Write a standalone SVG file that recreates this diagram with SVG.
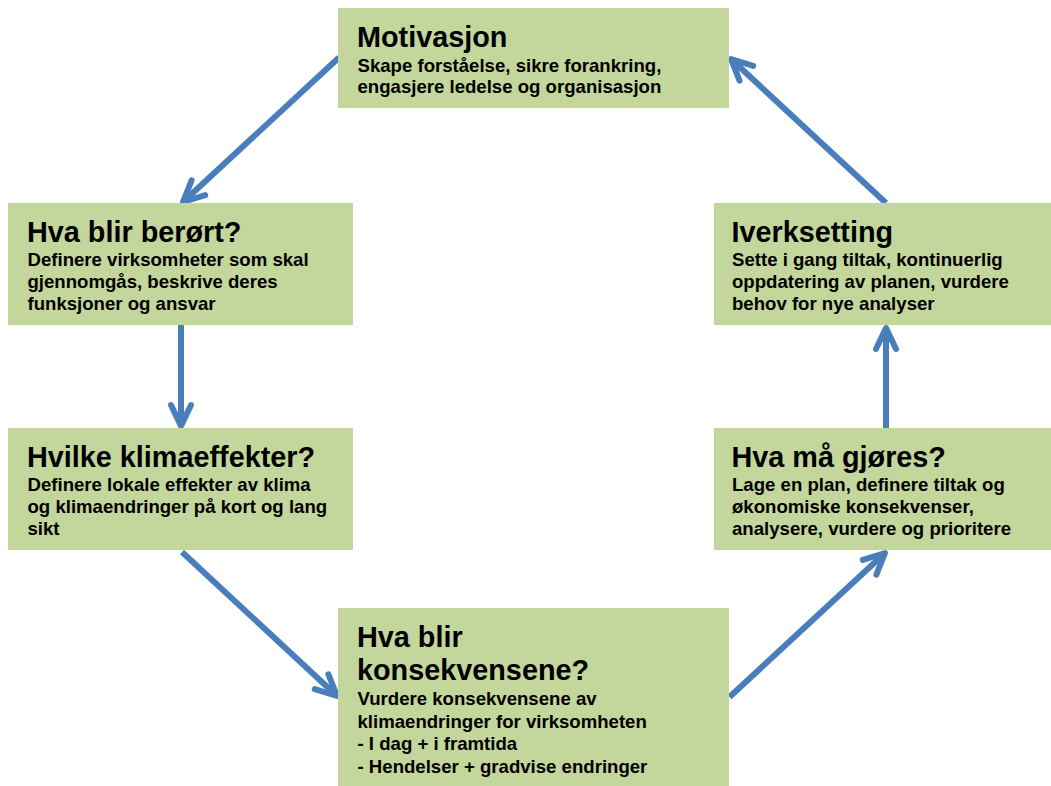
<svg xmlns="http://www.w3.org/2000/svg" width="1051" height="786" viewBox="0 0 1051 786">
<style>
.box{fill:#C3D69B;}
.t{font-family:"Liberation Sans",Arial,sans-serif;font-weight:bold;font-size:28.8px;fill:#000;}
.b{font-family:"Liberation Sans",Arial,sans-serif;font-weight:bold;font-size:18.6px;fill:#000;}
.c{fill:none;stroke:#4A7EBB;stroke-width:6;}
</style>
<defs>
<marker id="ah" markerUnits="userSpaceOnUse" markerWidth="40" markerHeight="40" viewBox="-30 -20 40 40" refX="0" refY="0" orient="auto" overflow="visible">
<path d="M-21,-10 L0,0 L-21,10" fill="none" stroke="#4A7EBB" stroke-width="6" stroke-linecap="round" stroke-linejoin="round"/>
</marker>
</defs>
<rect width="1051" height="786" fill="#fff"/>
<g id="connectors">
<line class="c" x1="339" y1="57.5" x2="183" y2="202" marker-end="url(#ah)"/>
<line class="c" x1="181" y1="325" x2="181" y2="426" marker-end="url(#ah)"/>
<line class="c" x1="182" y1="552" x2="337" y2="696" marker-end="url(#ah)"/>
<line class="c" x1="729.5" y1="697" x2="885" y2="553" marker-end="url(#ah)"/>
<line class="c" x1="886" y1="428" x2="886" y2="328" marker-end="url(#ah)"/>
<line class="c" x1="886" y1="203" x2="731" y2="59" marker-end="url(#ah)"/>
</g>
<g id="motivasjon">
<rect class="box" x="338" y="8" width="391" height="100"/>
<text class="t" x="357" y="46.7">Motivasjon</text>
<text class="b" x="357.5" y="71.7">Skape forståelse, sikre forankring,</text>
<text class="b" x="357.5" y="93">engasjere ledelse og organisasjon</text>
</g>
<g id="hva-blir-berort">
<rect class="box" x="8" y="203" width="345" height="122"/>
<text class="t" x="27" y="241.7">Hva blir berørt?</text>
<text class="b" x="27.5" y="265.7">Definere virksomheter som skal</text>
<text class="b" x="27.5" y="287.9">gjennomgås, beskrive deres</text>
<text class="b" x="27.5" y="310.1">funksjoner og ansvar</text>
</g>
<g id="hvilke-klimaeffekter">
<rect class="box" x="8" y="428" width="345" height="122"/>
<text class="t" x="27" y="466.7">Hvilke klimaeffekter?</text>
<text class="b" x="27.5" y="490.7">Definere lokale effekter av klima</text>
<text class="b" x="27.5" y="512.9">og klimaendringer på kort og lang</text>
<text class="b" x="27.5" y="535.1">sikt</text>
</g>
<g id="konsekvensene">
<rect class="box" x="338" y="608" width="391" height="178"/>
<text class="t" x="357" y="646.7">Hva blir</text>
<text class="t" x="357" y="680">konsekvensene?</text>
<text class="b" x="357.5" y="705">Vurdere konsekvensene av</text>
<text class="b" x="357.5" y="727.7">klimaendringer for virksomheten</text>
<text class="b" x="357.5" y="750.4">- I dag + i framtida</text>
<text class="b" x="357.5" y="773.1">- Hendelser + gradvise endringer</text>
</g>
<g id="hva-ma-gjores">
<rect class="box" x="714" y="428" width="337" height="122"/>
<text class="t" x="731.5" y="466.7">Hva må gjøres?</text>
<text class="b" x="732" y="490.7">Lage en plan, definere tiltak og</text>
<text class="b" x="732" y="512.9">økonomiske konsekvenser,</text>
<text class="b" x="732" y="535.1">analysere, vurdere og prioritere</text>
</g>
<g id="iverksetting">
<rect class="box" x="714" y="203" width="337" height="122"/>
<text class="t" x="731.5" y="241.7">Iverksetting</text>
<text class="b" x="732" y="265.7">Sette i gang tiltak, kontinuerlig</text>
<text class="b" x="732" y="287.9">oppdatering av planen, vurdere</text>
<text class="b" x="732" y="310.1">behov for nye analyser</text>
</g>
</svg>
